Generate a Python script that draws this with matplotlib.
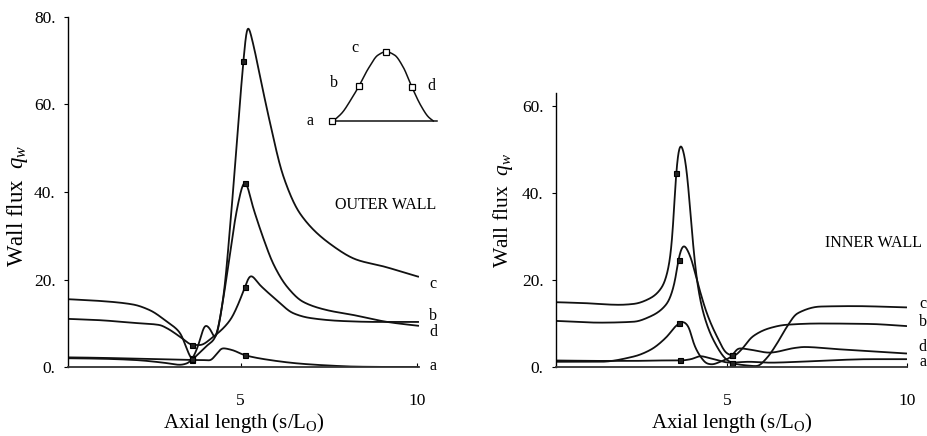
import numpy as np
import matplotlib
matplotlib.use("Agg")
import matplotlib.pyplot as plt

plt.rcParams['font.family'] = ['Liberation Serif', 'DejaVu Serif']
plt.rcParams['mathtext.fontset'] = 'custom'
plt.rcParams['mathtext.rm'] = 'Liberation Serif'
plt.rcParams['mathtext.it'] = 'Liberation Serif:italic'

# ---------------- data: OUTER WALL ----------------
outer_a_x = [0.1, 1.0, 2.0, 3.0, 3.62, 3.9, 4.13, 4.3, 4.48, 4.75, 5.12, 5.74, 6.7, 7.6, 8.2, 9.0, 10.05]
outer_a_y = [2.2, 2.1, 1.9, 1.7, 1.6, 1.6, 1.5, 2.8, 4.3, 3.9, 2.7, 1.7, 0.76, 0.3, 0.1, 0.02, 0.0]

outer_b_x = [0.1, 1.0, 1.94, 2.7, 2.9, 3.3, 3.62, 3.84, 4.22, 4.7, 4.98, 5.12, 5.28, 5.55, 6.02, 6.49, 6.97, 7.91, 8.87, 10.05]
outer_b_y = [11.0, 10.7, 10.1, 9.6, 8.9, 6.8, 5.1, 5.0, 6.9, 10.7, 15.3, 18.3, 20.9, 18.7, 15.3, 12.3, 11.2, 10.5, 10.3, 10.3]

outer_c_x = [0.1, 1.0, 1.94, 2.42, 2.9, 3.28, 3.5, 3.61, 3.8, 4.0, 4.27, 4.5, 4.74, 5.08, 5.19, 5.35, 5.55, 5.8, 6.21, 6.69, 7.63, 8.3, 9.05, 10.05]
outer_c_y = [15.5, 15.1, 14.3, 13.0, 10.4, 7.8, 3.6, 1.8, 3.0, 4.6, 6.6, 15.3, 35.9, 70.0, 78.2, 74.0, 66.4, 57.0, 43.6, 35.0, 27.6, 24.5, 23.0, 20.6]

outer_d_x = [0.1, 1.0, 2.0, 2.8, 3.28, 3.5, 3.62, 3.8, 4.0, 4.15, 4.27, 4.5, 4.7, 4.89, 5.12, 5.35, 5.64, 5.93, 6.32, 6.77, 7.45, 8.19, 9.16, 10.05]
outer_d_y = [2.0, 1.9, 1.6, 1.0, 0.5, 0.9, 1.8, 5.0, 9.6, 8.5, 6.5, 15.3, 26.0, 35.9, 42.4, 36.5, 29.5, 23.5, 18.3, 14.9, 13.0, 11.9, 10.3, 9.4]

outer_markers = {'a': [3.62, 5.12], 'b': [3.62, 5.12], 'c': [3.62, 5.08], 'd': [3.62, 5.12]}

# ---------------- data: INNER WALL ----------------
inner_a_x = [0.24, 1.47, 2.4, 3.0, 3.7, 4.0, 4.26, 4.53, 5.09, 5.6, 6.2, 7.0, 8.07, 9.0, 10.0]
inner_a_y = [1.5, 1.4, 1.4, 1.5, 1.5, 1.8, 2.5, 2.0, 1.0, 1.2, 1.0, 1.2, 1.6, 1.8, 1.8]

inner_b_x = [0.24, 1.47, 2.4, 2.86, 3.33, 3.56, 3.65, 3.79, 3.98, 4.16, 4.44, 4.72, 5.0, 5.19, 5.4, 5.71, 6.17, 6.64, 7.57, 8.96, 10.0]
inner_b_y = [10.6, 10.2, 10.4, 11.6, 14.6, 20.0, 25.0, 28.0, 25.4, 20.0, 12.3, 7.0, 3.1, 2.6, 4.0, 7.0, 8.9, 9.7, 10.0, 9.9, 9.4]

inner_c_x = [0.24, 1.0, 2.0, 2.4, 2.86, 3.2, 3.4, 3.5, 3.58, 3.7, 3.82, 3.9, 3.98, 4.06, 4.16, 4.34, 4.62, 5.0, 5.19, 5.5, 5.83, 6.1, 6.39, 6.67, 6.95, 7.6, 8.52, 10.0]
inner_c_y = [14.9, 14.7, 14.3, 14.5, 15.8, 18.5, 24.0, 32.0, 45.0, 51.4, 48.5, 43.5, 35.5, 27.7, 20.0, 12.4, 6.2, 1.6, 0.8, 0.4, 0.2, 2.0, 5.4, 9.3, 12.3, 13.9, 14.0, 13.7]

inner_d_x = [0.24, 1.47, 2.4, 2.86, 3.33, 3.56, 3.77, 3.93, 4.07, 4.26, 4.44, 4.58, 4.81, 5.09, 5.33, 5.71, 6.17, 6.9, 7.14, 8.07, 10.0]
inner_d_y = [1.2, 1.2, 2.4, 3.9, 7.0, 9.3, 10.4, 9.3, 5.4, 2.4, 0.8, 0.6, 1.2, 2.2, 4.3, 3.9, 3.3, 4.4, 4.6, 4.1, 3.1]

inner_markers = {'a': [3.70, 5.15], 'b': [3.65, 5.15], 'c': [3.59, 5.15], 'd': [3.67, 5.15]}

outer_yticks = [0, 20, 40, 60, 80]
outer_yticklabels = ['0.', '20.', '40.', '60.', '80.']
inner_yticks = [0, 20, 40, 60]
inner_yticklabels = ['0.', '20.', '40.', '60.']
xticks = [5, 10]
xticklabels = ['5', '10']

# inset schematic (normalised shape)
inset_t = [0.016, 0.1, 0.18, 0.26, 0.35, 0.44, 0.517, 0.6, 0.68, 0.765, 0.85, 0.92, 0.968]
inset_h = [0.0, 0.12, 0.3, 0.505, 0.76, 0.95, 1.0, 0.95, 0.78, 0.485, 0.22, 0.06, 0.0]
inset_pts_t = [0.0, 0.26, 0.517, 0.765]
inset_pts_h = [0.0, 0.505, 1.0, 0.485]


def pchip(x, y, xn):
    x = np.asarray(x, float)
    y = np.asarray(y, float)
    xn = np.asarray(xn, float)
    h = np.diff(x)
    d = np.diff(y) / h
    m = np.zeros_like(y)
    for k in range(1, len(x) - 1):
        if d[k - 1] * d[k] <= 0:
            m[k] = 0.0
        else:
            w1 = 2 * h[k] + h[k - 1]
            w2 = h[k] + 2 * h[k - 1]
            m[k] = (w1 + w2) / (w1 / d[k - 1] + w2 / d[k])
    m[0] = d[0]
    m[-1] = d[-1]
    idx = np.clip(np.searchsorted(x, xn) - 1, 0, len(h) - 1)
    t = (xn - x[idx]) / h[idx]
    h00 = 2 * t**3 - 3 * t**2 + 1
    h10 = t**3 - 2 * t**2 + t
    h01 = -2 * t**3 + 3 * t**2
    h11 = t**3 - t**2
    return h00 * y[idx] + h10 * h[idx] * m[idx] + h01 * y[idx + 1] + h11 * h[idx] * m[idx + 1]


def smooth_curve(xs, ys, sigma=0.045, n=2000):
    xx = np.linspace(xs[0], xs[-1], n)
    yy = pchip(xs, ys, xx)
    dx = xx[1] - xx[0]
    k = int(4 * sigma / dx)
    ker = np.exp(-0.5 * (np.arange(-k, k + 1) * dx / sigma) ** 2)
    ker /= ker.sum()
    pad = np.concatenate([np.full(k, yy[0]), yy, np.full(k, yy[-1])])
    ys2 = np.convolve(pad, ker, mode='valid')
    return xx, ys2


W, H = 928, 436
fig = plt.figure(figsize=(W / 100, H / 100), dpi=100)

ax1 = fig.add_axes([68 / W, (H - 367) / H, (418.6 - 68) / W, (367 - 17) / H])
ax2 = fig.add_axes([556 / W, (H - 367) / H, (906.7 - 556) / W, (367 - 93) / H])

LW = 1.3
INK = '#111111'


def draw(ax, curves, markers):
    for key, (xs, ys) in curves.items():
        xx, yy = smooth_curve(xs, ys)
        ax.plot(xx, yy, color=INK, lw=LW, solid_capstyle='round')
        mx = np.asarray(markers[key])
        ax.plot(mx, np.interp(mx, xx, yy), ls='none', marker='s', ms=3.6,
                mfc='#222222', mec='#000000', mew=0.8)


draw(ax1, {'a': (outer_a_x, outer_a_y), 'b': (outer_b_x, outer_b_y),
           'c': (outer_c_x, outer_c_y), 'd': (outer_d_x, outer_d_y)}, outer_markers)
draw(ax2, {'a': (inner_a_x, inner_a_y), 'b': (inner_b_x, inner_b_y),
           'c': (inner_c_x, inner_c_y), 'd': (inner_d_x, inner_d_y)}, inner_markers)

ax1.set_xlim(0.1, 10.05)
ax1.set_ylim(0, 80)
ax2.set_xlim(0.24, 10.0)
ax2.set_ylim(0, 63)

for ax, yt, ytl in ((ax1, outer_yticks, outer_yticklabels), (ax2, inner_yticks, inner_yticklabels)):
    for s in ('top', 'right'):
        ax.spines[s].set_visible(False)
    ax.spines['left'].set_linewidth(1.0)
    ax.spines['bottom'].set_linewidth(1.3)
    ax.spines['bottom'].set_color('#333333')
    ax.set_yticks(yt)
    ax.set_yticklabels(ytl)
    ax.set_xticks(xticks)
    ax.set_xticklabels(xticklabels)
    ax.tick_params(axis='y', direction='out', length=3, width=0.8, pad=6, labelsize=12.5)
    ax.tick_params(axis='x', direction='in', length=3, width=0.8, pad=19, labelsize=12.5)
    ax.set_xlabel('Axial length (s/L$_\\mathrm{O}$)', fontsize=15, va='center')

ax1.set_ylabel('Wall flux  $q_w$', fontsize=16.5, va='center', ha='center')
ax2.set_ylabel('Wall flux  $q_w$', fontsize=15.5, va='center', ha='center')
ax1.xaxis.set_label_coords(0.502, -0.16)
ax1.yaxis.set_label_coords(-0.143, 0.46)
ax2.xaxis.set_label_coords(0.502, -0.204)
ax2.yaxis.set_label_coords(-0.151, 0.57)

# end labels
for lab, yy in (('c', 19.0), ('b', 11.7), ('d', 8.1), ('a', 0.3)):
    ax1.text(10.47, yy, lab, fontsize=11.5, ha='center', va='center', clip_on=False)
for lab, yy in (('c', 14.6), ('b', 10.4), ('d', 4.5), ('a', 1.2)):
    ax2.text(10.44, yy, lab, fontsize=11.5, ha='center', va='center', clip_on=False)

ax1.text(9.12, 37.0, 'OUTER WALL', fontsize=11.5, ha='center', va='center')
ax2.text(9.08, 28.6, 'INNER WALL', fontsize=11.5, ha='center', va='center')

# inset schematic
axi = fig.add_axes([331.7 / W, (H - 121) / H, 105 / W, 69.3 / H])
axi.set_xlim(0, 1)
axi.set_ylim(0, 1)
axi.axis('off')
tt = np.linspace(inset_t[0], inset_t[-1], 400)
axi.plot(tt, pchip(inset_t, inset_h, tt), color=INK, lw=1.1, clip_on=False)
axi.plot([0.0, 1.0], [0.0, 0.0], color=INK, lw=1.1, clip_on=False)
axi.plot(inset_pts_t, inset_pts_h, ls='none', marker='s', ms=4.5, mfc='white',
         mec='#000000', mew=0.9, clip_on=False)
for lab, tx, ty in (('a', -0.21, 0.0), ('b', 0.02, 0.55), ('c', 0.22, 1.05), ('d', 0.95, 0.5)):
    axi.text(tx, ty, lab, fontsize=11.5, ha='center', va='center', clip_on=False)

fig.savefig('out.png', dpi=100)
